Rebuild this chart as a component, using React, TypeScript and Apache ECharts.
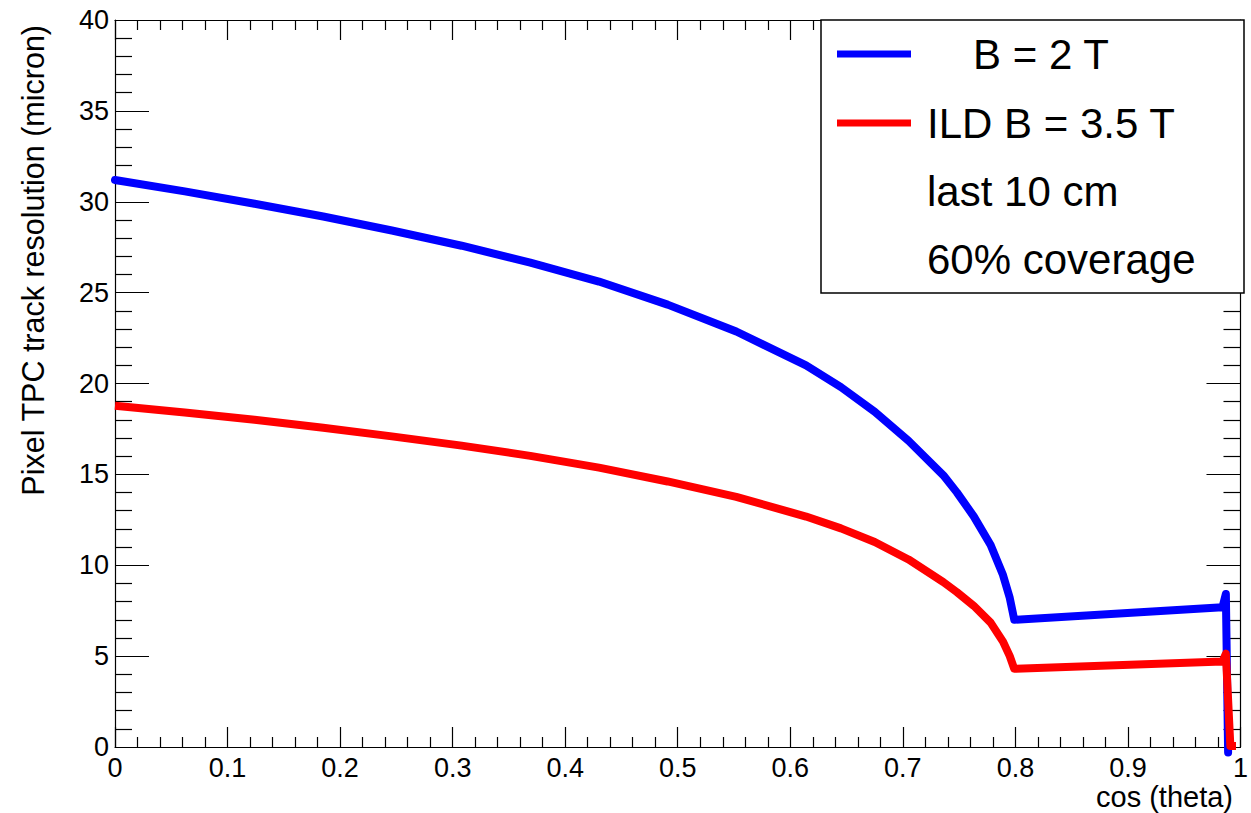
import React, { useEffect, useRef } from "react";
import * as echarts from "echarts";

// cos(theta) sample points and resolution values (micron)
const xBlue = [0, 0.062, 0.124, 0.185, 0.246, 0.308, 0.369, 0.43, 0.491, 0.552, 0.614, 0.645, 0.675, 0.705, 0.736, 0.748, 0.763, 0.778, 0.789, 0.795, 0.799, 0.984, 0.987, 0.989];
const yBlue = [31.2, 30.57, 29.89, 29.19, 28.42, 27.58, 26.65, 25.61, 24.34, 22.86, 21.0, 19.8, 18.45, 16.85, 14.95, 14.01, 12.69, 11.11, 9.46, 8.2, 7.0, 7.69, 8.42, -0.3];
const xRed = [0, 0.062, 0.124, 0.185, 0.246, 0.308, 0.369, 0.43, 0.491, 0.552, 0.614, 0.645, 0.675, 0.705, 0.736, 0.748, 0.763, 0.778, 0.789, 0.795, 0.799, 0.984, 0.987, 0.991, 0.996];
const yRed = [18.77, 18.4, 18.0, 17.57, 17.09, 16.58, 16.02, 15.37, 14.61, 13.76, 12.68, 12.03, 11.28, 10.32, 9.07, 8.52, 7.77, 6.84, 5.8, 5.0, 4.3, 4.7, 5.13, 0.05, 0.05];

const seriesNames = ["B = 2 T", "ILD B = 3.5 T"];
const legendNotes = ["last 10 cm", "60% coverage"];
const xTitle = "cos (theta)";
const yTitle = "Pixel TPC track resolution (micron)";

const FONT = "Liberation Sans, Arial, Helvetica, sans-serif";

export default function App() {
  const ref = useRef<HTMLDivElement>(null);
  useEffect(() => {
    if (!ref.current) return;
    const chart = echarts.init(ref.current, undefined, { renderer: "svg" });
    const axisCommon = {
      type: "value" as const,
      axisLine: { show: true, onZero: false, lineStyle: { color: "#000", width: 1.2 } },
      splitLine: { show: false },
    };
    const xBase = {
      ...axisCommon,
      min: 0,
      max: 1,
      interval: 0.1,
      axisTick: { show: true, inside: true, length: 20, lineStyle: { color: "#000", width: 1.2 } },
      minorTick: { show: true, splitNumber: 5, length: 10, lineStyle: { color: "#000", width: 1.2 } },
    };
    const yBase = {
      ...axisCommon,
      min: 0,
      max: 40,
      interval: 5,
      axisTick: { show: true, inside: true, length: 34, lineStyle: { color: "#000", width: 1.2 } },
      minorTick: { show: true, splitNumber: 5, length: 17, lineStyle: { color: "#000", width: 1.2 } },
    };
    const option = {
      animation: false,
      backgroundColor: "#fff",
      grid: { left: 115, top: 20, right: 6, bottom: 66, containLabel: false },
      xAxis: [
        {
          ...xBase,
          position: "bottom",
          axisLabel: {
            show: true,
            color: "#000",
            fontSize: 27,
            fontFamily: FONT,
            margin: 7,
            formatter: (v: number) => (Math.abs(v - 1) < 1e-9 ? "1" : Math.abs(v) < 1e-9 ? "0" : v.toFixed(1)),
          },
        },
        { ...xBase, position: "top", axisLabel: { show: false } },
      ],
      yAxis: [
        {
          ...yBase,
          position: "left",
          axisLabel: { show: true, color: "#000", fontSize: 27, fontFamily: FONT, margin: 6 },
        },
        { ...yBase, position: "right", axisLabel: { show: false } },
      ],
      series: [
        {
          name: seriesNames[0],
          type: "line",
          showSymbol: false,
          clip: false,
          data: xBlue.map((x, i) => [x, yBlue[i]]),
          lineStyle: { color: "#0000ff", width: 8, cap: "round", join: "round" },
          itemStyle: { color: "#0000ff" },
          z: 3,
        },
        {
          name: seriesNames[1],
          type: "line",
          showSymbol: false,
          clip: false,
          data: xRed.map((x, i) => [x, yRed[i]]),
          lineStyle: { color: "#ff0000", width: 8, cap: "butt", join: "round" },
          itemStyle: { color: "#ff0000" },
          z: 4,
        },
      ],
      graphic: [
        {
          type: "rect",
          z: 100,
          shape: { x: 821, y: 20, width: 423, height: 273 },
          style: { fill: "#fff", stroke: "#000", lineWidth: 1.5 },
        },
        {
          type: "line",
          z: 101,
          shape: { x1: 837, y1: 54, x2: 911, y2: 54 },
          style: { stroke: "#0000ff", lineWidth: 7 },
        },
        {
          type: "line",
          z: 101,
          shape: { x1: 837, y1: 123, x2: 911, y2: 123 },
          style: { stroke: "#ff0000", lineWidth: 7 },
        },
        {
          type: "text",
          z: 101,
          x: 973,
          y: 54,
          style: { text: seriesNames[0], fill: "#000", font: `42px ${FONT}`, align: "left", verticalAlign: "middle" },
        },
        {
          type: "text",
          z: 101,
          x: 927,
          y: 123,
          style: { text: seriesNames[1], fill: "#000", font: `42px ${FONT}`, align: "left", verticalAlign: "middle" },
        },
        {
          type: "text",
          z: 101,
          x: 927,
          y: 191,
          style: { text: legendNotes[0], fill: "#000", font: `42px ${FONT}`, align: "left", verticalAlign: "middle" },
        },
        {
          type: "text",
          z: 101,
          x: 927,
          y: 259,
          style: { text: legendNotes[1], fill: "#000", font: `42px ${FONT}`, align: "left", verticalAlign: "middle" },
        },
        {
          type: "text",
          z: 101,
          x: 1233,
          y: 797,
          style: { text: xTitle, fill: "#000", font: `29px ${FONT}`, align: "right", verticalAlign: "middle" },
        },
        {
          type: "text",
          z: 101,
          x: 33,
          y: 25,
          rotation: Math.PI / 2,
          style: { text: yTitle, fill: "#000", font: `30.5px ${FONT}`, align: "right", verticalAlign: "middle" },
        },
      ],
    };
    chart.setOption(option as any);
    return () => chart.dispose();
  }, []);
  return (
    <div
      ref={ref}
      style={{ position: "absolute", left: 0, top: 0, width: 1251, height: 813, background: "#fff" }}
    />
  );
}
